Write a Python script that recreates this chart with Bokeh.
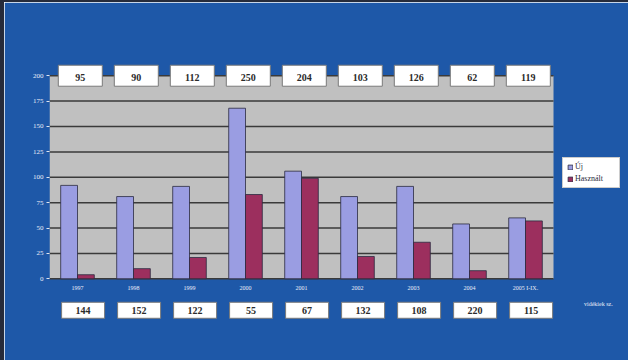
import math

from bokeh.embed import file_html
from bokeh.resources import INLINE
from bokeh.plotting import figure
from bokeh.models import (BoxAnnotation, FixedTicker, Label, Legend, LegendItem,
                          ColumnDataSource)
from bokeh.transform import dodge

# Years on the category axis
years = ["1997", "1998", "1999", "2000", "2001", "2002", "2003", "2004", "2005 I-IX."]
# Bar series
uj = [92, 81, 91, 168, 106, 81, 91, 54, 60]
hasznalt = [4, 10, 21, 83, 99, 22, 36, 8, 57]
# Numbers shown in the boxes above and below the chart
top_counts = [95, 90, 112, 250, 204, 103, 126, 62, 119]
bottom_counts = [144, 152, 122, 55, 67, 132, 108, 220, 115]
y_ticks = [0, 25, 50, 75, 100, 125, 150, 175, 200]

BG = "#1e58a8"
EDGE = "#262b3a"
GRAY = "#c0c0c0"
UJ_COLOR = "#9a9de2"
HASZ_COLOR = "#9c2f5e"
SERIF = "Liberation Serif"

pos = list(range(len(years)))
src = ColumnDataSource(dict(
    pos=pos, year=years, uj=uj, hasznalt=hasznalt,
    top_lbl=[str(v) for v in top_counts],
    bot_lbl=[str(v) for v in bottom_counts],
))

# Numeric x: one unit per year slot; the frame runs on to the right edge
# so that the legend and the side caption sit inside it.
p = figure(x_range=(-0.5, 9.839), y_range=(-46, 215),
           frame_width=579, frame_height=265,
           min_border_left=45, min_border_right=0,
           min_border_top=58, min_border_bottom=35,
           x_axis_location=None, title=None,
           output_backend="svg", toolbar_location=None,
           styles={"border-top": f"2px solid {EDGE}",
                   "border-left": f"4px solid {EDGE}"})
p.background_fill_color = BG
p.border_fill_color = BG
p.outline_line_color = BG
p.outline_line_width = 2
p.xgrid.visible = False
p.ygrid.visible = False

# Gray plotting area between 0 and 200
p.add_layout(BoxAnnotation(left=-0.5, right=8.5, bottom=0, top=200,
                           fill_color=GRAY, fill_alpha=1.0,
                           line_color=None, level="image"))

# Horizontal grid lines across the gray area
p.segment(x0=-0.5, x1=8.5, y0=y_ticks, y1=y_ticks,
          line_color="#3a3a3a", line_width=1.5, level="underlay")

yax = p.yaxis[0]
yax.ticker = FixedTicker(ticks=y_ticks)
yax.bounds = (0, 200)
yax.axis_line_color = None
yax.major_tick_line_color = "#dfe6f2"
yax.major_tick_out = 3
yax.major_tick_in = 0
yax.minor_tick_line_color = None
yax.major_label_standoff = 3
yax.major_label_text_color = "#e8eef8"
yax.major_label_text_font = SERIF
yax.major_label_text_font_size = "7px"

# Bars
r_uj = p.vbar(x=dodge("pos", -0.15), top="uj", width=0.3,
              source=src, fill_color=UJ_COLOR, line_color="#2a2a40", line_width=0.8)
r_h = p.vbar(x=dodge("pos", 0.15), top="hasznalt", width=0.3,
             source=src, fill_color=HASZ_COLOR, line_color="#2a2a40", line_width=0.8)

# Year labels under the bars
p.text(x="pos", y=-9, text="year", source=src, text_align="center",
       text_baseline="middle", text_color="#e8eef8", text_font=SERIF,
       text_font_size="6px")

# Boxes with counts above the chart
p.rect(x=dodge("pos", 0.05), y=200, width=44, height=21,
       width_units="screen", height_units="screen", source=src,
       fill_color="white", line_color="#7a7a7a", line_width=1)
p.text(x=dodge("pos", 0.05), y=198.5, text="top_lbl", source=src,
       text_align="center", text_baseline="middle", text_color="#2a2a2a",
       text_font=SERIF, text_font_style="bold", text_font_size="10px")

# Boxes with counts below the chart
p.rect(x=dodge("pos", 0.1), y=-31, width=43, height=16,
       width_units="screen", height_units="screen", source=src,
       fill_color="white", line_color="#7a7a7a", line_width=1)
p.text(x=dodge("pos", 0.1), y=-31, text="bot_lbl", source=src,
       text_align="center", text_baseline="middle", text_color="#2a2a2a",
       text_font=SERIF, text_font_style="bold", text_font_size="10px")

# Axis title and row caption
p.add_layout(Label(x=-35, x_units="screen", y=100, text="esetek", angle=math.pi / 2,
                   text_align="center", text_baseline="middle",
                   text_color="#e8eef8", text_font=SERIF, text_font_size="6px"))
p.add_layout(Label(x=9.3, y=-25, text="vidékiek sz.",
                   text_align="center", text_baseline="middle",
                   text_color="#e8eef8", text_font=SERIF, text_font_size="6px"))

legend = Legend(items=[LegendItem(label="Új", renderers=[r_uj]),
                       LegendItem(label="Használt", renderers=[r_h])],
                location=(513, 137), orientation="vertical",
                background_fill_color="white", background_fill_alpha=1.0,
                border_line_color="#9a9a9a", label_text_font=SERIF,
                label_text_font_size="8px", label_text_color="#2a2a3a",
                glyph_width=6, glyph_height=6, label_height=8, label_standoff=2,
                label_width=40, padding=4, spacing=3, margin=0)
p.add_layout(legend)

open("out.html", "w").write(file_html(p, INLINE))
